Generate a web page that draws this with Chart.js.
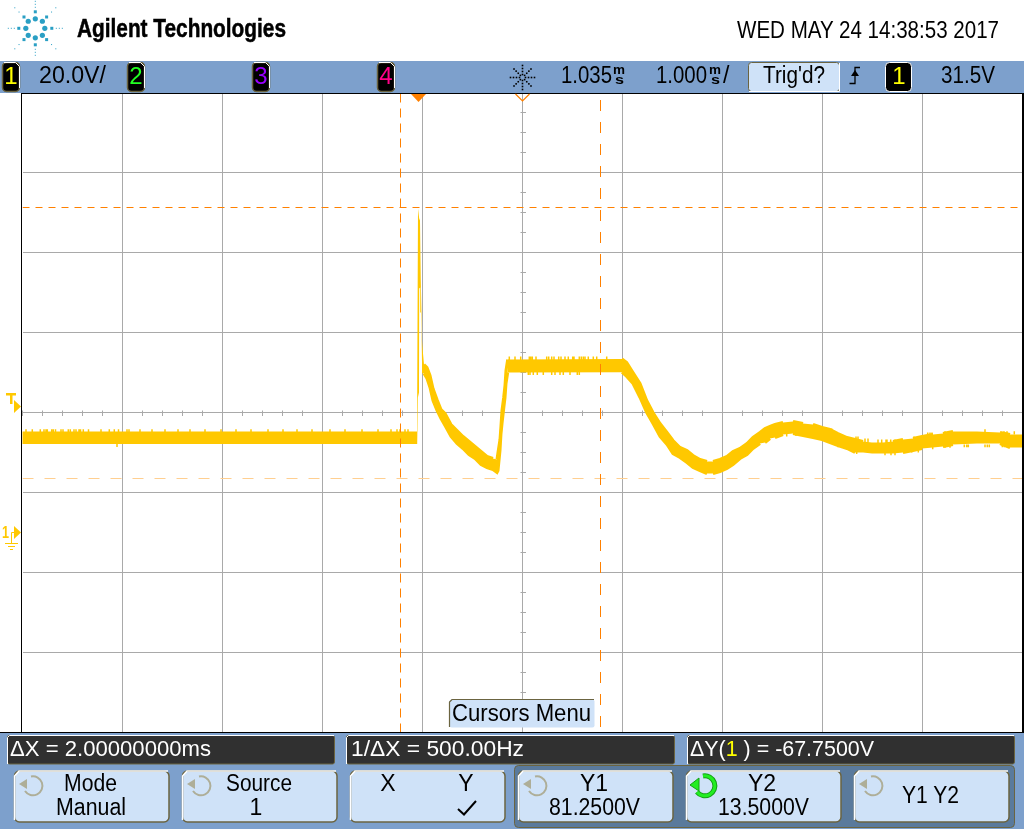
<!DOCTYPE html>
<html>
<head>
<meta charset="utf-8">
<title>Agilent oscilloscope capture</title>
<script src="https://cdn.jsdelivr.net/npm/chart.js@4/dist/chart.umd.min.js"></script>
<style>
html,body{margin:0;padding:0;background:#fff;overflow:hidden}
#stage{position:relative;width:1024px;height:829px}
canvas{position:absolute;left:0;top:0}
svg{position:absolute;left:0;top:0;pointer-events:none}
text{font-family:"Liberation Sans",Arial,sans-serif;fill:#000}
</style>
</head>
<body>
<div id="stage">
<canvas id="c" width="1024" height="829"></canvas>
<svg id="ui" width="1024" height="829" viewBox="0 0 1024 829" xmlns="http://www.w3.org/2000/svg">
  <!-- white header, blue status bar, blue softkey area -->
  <rect x="0" y="0" width="1024" height="60" fill="#fff"/>
  <rect x="0" y="61" width="1024" height="32" fill="#7da0cc"/>
  <rect x="0" y="733" width="1024" height="96" fill="#7da0cc"/>
  <rect x="0" y="93" width="21" height="640" fill="#fff"/>
  <rect x="1023" y="93" width="1" height="640" fill="#fff"/>
  <!-- plot frame -->
  <rect x="21" y="93" width="1" height="640" fill="#000"/>
  <rect x="21" y="93" width="1003" height="1" fill="#000"/>
  <rect x="21" y="732" width="1003" height="1" fill="#000"/>
  <rect x="1022" y="93" width="2" height="640" fill="#000"/>
  <rect x="0" y="732" width="21" height="1" fill="#000"/>
  <g id="logo"></g>
  <text x="77" y="37" font-size="25" font-weight="bold" stroke="#000" stroke-width="0.5" textLength="209" lengthAdjust="spacingAndGlyphs">Agilent Technologies</text>
  <text x="737" y="37.500" font-size="24" textLength="262" lengthAdjust="spacingAndGlyphs">WED MAY 24 14:38:53 2017</text>

  <!-- channel boxes -->
  <g>
    <rect x="2.500" y="62.500" width="17" height="29" rx="4" fill="#000" stroke="#6b6440" stroke-width="1.500"/>
    <path d="M4 62.500H15.500L19.500 66.500V88" fill="none" stroke="#fff"/>
    <text x="11" y="84" font-size="24" text-anchor="middle" style="fill:#ffff00">1</text>
    <rect x="127.500" y="62.500" width="17" height="29" rx="4" fill="#000" stroke="#6b6440" stroke-width="1.500"/>
    <path d="M129 62.500H140.500L144.500 66.500V88" fill="none" stroke="#fff"/>
    <text x="136" y="84" font-size="24" text-anchor="middle" style="fill:#22ff22">2</text>
    <rect x="252.500" y="62.500" width="17" height="29" rx="4" fill="#000" stroke="#6b6440" stroke-width="1.500"/>
    <path d="M254 62.500H265.500L269.500 66.500V88" fill="none" stroke="#fff"/>
    <text x="261" y="84" font-size="24" text-anchor="middle" style="fill:#9900ff">3</text>
    <rect x="377.500" y="62.500" width="17" height="29" rx="4" fill="#000" stroke="#6b6440" stroke-width="1.500"/>
    <path d="M379 62.500H390.500L394.500 66.500V88" fill="none" stroke="#fff"/>
    <text x="386" y="84" font-size="24" text-anchor="middle" style="fill:#ff0088">4</text>
  </g>
  <text x="39" y="83" font-size="23" textLength="67" lengthAdjust="spacingAndGlyphs">20.0V/</text>
  <g id="star"></g>
  <text x="561" y="83" font-size="23" textLength="51" lengthAdjust="spacingAndGlyphs">1.035</text>
  <text x="613" y="74" font-size="12" font-weight="bold" textLength="12" lengthAdjust="spacingAndGlyphs">m</text>
  <text x="615" y="84" font-size="12" font-weight="bold" textLength="9" lengthAdjust="spacingAndGlyphs">s</text>
  <text x="656" y="83" font-size="23" textLength="51" lengthAdjust="spacingAndGlyphs">1.000</text>
  <text x="709" y="74" font-size="12" font-weight="bold" textLength="12" lengthAdjust="spacingAndGlyphs">m</text>
  <text x="711" y="84" font-size="12" font-weight="bold" textLength="9" lengthAdjust="spacingAndGlyphs">s</text>
  <text x="723" y="83" font-size="23">/</text>
  <rect x="748.500" y="62.500" width="91" height="29" rx="3" fill="#cfe2f8" stroke="#6b6440"/>
  <path d="M749 91.500H839.500V63" fill="none" stroke="#fff"/>
  <text x="763" y="83" font-size="23" textLength="62" lengthAdjust="spacingAndGlyphs">Trig'd?</text>
  <path d="M849.500 83.500H855V67.500H860" fill="none" stroke="#000" stroke-width="1.300"/>
  <path d="M851 76L855 70L859 76Z" fill="#000"/>
  <rect x="885.500" y="62.500" width="26" height="29" rx="4" fill="#000" stroke="#fff"/>
  <text x="899" y="84" font-size="24" text-anchor="middle" style="fill:#ffff00">1</text>
  <text x="941" y="83" font-size="23" textLength="54" lengthAdjust="spacingAndGlyphs">31.5V</text>

  <!-- markers around the grid -->
  <path d="M411 94H426L418.500 102Z" fill="#ff8000"/>
  <path d="M515.500 94L522.500 101L529.500 94" fill="none" stroke="#ff8000" stroke-width="1.200"/>
  <path d="M6 393H16V395.500H12.500V404H10V395.500H6Z" fill="#ffc800"/>
  <path d="M14 400L21 406.500L14 413Z" fill="#ffc800"/>
  <path d="M14 526L21 532.500L14 539Z" fill="#ffc800"/>
  <text x="2" y="538" font-size="17" font-weight="bold" textLength="7" lengthAdjust="spacingAndGlyphs" style="fill:#ffc800">1</text>
  <path d="M14 532.500H11.500V543M5 543.500H18M8 546.500H15M10 549.500H13" fill="none" stroke="#ffc800"/>

  <!-- cursors menu tag -->
  <rect x="449.500" y="699.500" width="145" height="28" rx="2" fill="#cfe2f8"/>
  <path d="M449.500 727V702L452 699.500H594" fill="none" stroke="#6b6440" stroke-width="1.200"/>
  <text x="452" y="721" font-size="23" textLength="139" lengthAdjust="spacingAndGlyphs">Cursors Menu</text>

  <!-- read-out boxes -->
  <g stroke="#6b6440">
    <rect x="7.500" y="735.500" width="327" height="28.500" rx="2" fill="#303030"/>
    <rect x="346.500" y="735.500" width="328" height="28.500" rx="2" fill="#303030"/>
    <rect x="687.500" y="735.500" width="327" height="28.500" rx="2" fill="#303030"/>
  </g>
  <path d="M7.500 764V737.500L9.500 735.500H334M346.500 764V737.500L348.500 735.500H674M687.500 764V737.500L689.500 735.500H1014" fill="none" stroke="#fff"/>
  <text x="10" y="755.500" font-size="22" textLength="201" lengthAdjust="spacingAndGlyphs" style="fill:#fff">ΔX = 2.00000000ms</text>
  <text x="351" y="755.500" font-size="22" textLength="173" lengthAdjust="spacingAndGlyphs" style="fill:#fff">1/ΔX = 500.00Hz</text>
  <text x="690" y="755.500" font-size="22" textLength="184" lengthAdjust="spacingAndGlyphs" style="fill:#fff">ΔY(<tspan style="fill:#ffff00">1</tspan> ) = -67.7500V</text>

  <!-- softkeys -->
  <rect x="514.500" y="765.500" width="500" height="62" rx="4" fill="#5a7a9c" stroke="#6b6440"/>
  <g fill="#cfe2f8" stroke="#6b6440" stroke-width="1.500">
    <rect x="14.500" y="771" width="154.500" height="51" rx="5"/>
    <rect x="182.500" y="771" width="154.500" height="51" rx="5"/>
    <rect x="350.500" y="771" width="154.500" height="51" rx="5"/>
    <rect x="518.500" y="771" width="154.500" height="51" rx="5"/>
    <rect x="686.500" y="771" width="154.500" height="51" rx="5"/>
    <rect x="854.500" y="771" width="154.500" height="51" rx="5"/>
  </g>
  <path d="M14.500 820V776L19 771H168M182.500 820V776L187 771H336M350.500 820V776L355 771H504M518.500 820V776L523 771H672M686.500 820V776L691 771H840M854.500 820V776L859 771H1008" fill="none" stroke="#fff" stroke-width="1.500"/>
  <g fill="none" stroke="#aeae98" stroke-width="2">
    <path d="M31 776.500A9.500 9.500 0 1 1 25 791"/>
    <path d="M199 776.500A9.500 9.500 0 1 1 193 791"/>
    <path d="M535 776.500A9.500 9.500 0 1 1 529 791"/>
    <path d="M871 776.500A9.500 9.500 0 1 1 865 791"/>
  </g>
  <g fill="#aeae98">
    <path d="M19 784L27 779V789Z"/><path d="M187 784L195 779V789Z"/>
    <path d="M523 784L531 779V789Z"/><path d="M859 784L867 779V789Z"/>
  </g>
  <path d="M703 776A10 10 0 1 1 697 792" fill="none" stroke="#14a014" stroke-width="5"/>
  <path d="M703 776A10 10 0 1 1 697 792" fill="none" stroke="#22ee22" stroke-width="3"/>
  <path d="M690 785L699 778V791Z" fill="#22ee22" stroke="#14a014"/>

  <text x="64" y="791" font-size="23" textLength="53" lengthAdjust="spacingAndGlyphs">Mode</text>
  <text x="56" y="815" font-size="23" textLength="70" lengthAdjust="spacingAndGlyphs">Manual</text>
  <text x="226" y="791" font-size="23" textLength="66" lengthAdjust="spacingAndGlyphs">Source</text>
  <text x="256" y="815" font-size="23" text-anchor="middle">1</text>
  <text x="388" y="791" font-size="23" text-anchor="middle">X</text>
  <text x="466" y="791" font-size="23" text-anchor="middle">Y</text>
  <path d="M458 809L464 814.500L476 801" fill="none" stroke="#000" stroke-width="2"/>
  <text x="594" y="791" font-size="23" text-anchor="middle">Y1</text>
  <text x="549" y="815" font-size="23" textLength="91" lengthAdjust="spacingAndGlyphs">81.2500V</text>
  <text x="762" y="791" font-size="23" text-anchor="middle">Y2</text>
  <text x="718" y="815" font-size="23" textLength="91" lengthAdjust="spacingAndGlyphs">13.5000V</text>
  <text x="902" y="803" font-size="23" textLength="57" lengthAdjust="spacingAndGlyphs">Y1 Y2</text>
</svg>
</div>
<script>
// Grid positions
const gridTimes = [-2.96,-1.96,-0.96,0.04,1.04,2.04,3.04,4.04,5.04];
const gridVolts = [90,70,50,30,10,-10,-30];
const xRange = [-3.96, 6.04];
const yRange = [-50, 110];
const centreTime = 1.04;
const centreVolt = 30;

// Cursors
const cursorX1 = -0.18;
const cursorX2 = 1.82;
const cursorY1 = 81.25;
const cursorY2 = 13.5;

// Channel 1 trace envelope (ms, V)
const traceTime = [-3.965,-0.015,-0.013,-0.006,-0.005,0.005,0.007,0.015,0.02,0.025,0.03,0.035,0.045,0.055,
 0.085,0.115,0.145,0.185,0.225,0.265,0.325,0.385,0.445,0.505,0.565,0.625,0.685,0.745,0.785,0.795,0.815,0.825,0.835,0.852,0.865,0.875,0.892,
 2.035,2.082,2.145,2.215,2.282,2.345,2.415,2.485,2.545,2.615,2.685,2.745,2.815,2.885,2.945,3.015,3.085,3.145,3.215,3.285,3.345,3.415,3.465,3.515,3.565,3.645,3.745,3.845,3.945,4.035,4.115,4.195,4.285,4.365,4.445,4.535,4.645,4.745,4.845,4.945,5.035,5.145,5.245,5.345,5.585,5.815,5.915,6.045];
const traceHigh = [25.25,25.25,35.25,35.25,81,81,78.5,78,63.5,63.5,54.5,48,44.75,42,
 41.25,39.25,36,33.25,30.75,29.75,27,25.5,24,22.75,21.5,20.25,19,18.5,18.25,20,23.25,26.75,30.5,33.75,36.75,40.5,43.25,
 43.38,42.5,40,37.25,33,30,27.25,25,23,21.25,20.5,19.25,18.25,17.75,17.75,18.25,19,20.25,21,22.25,23.75,25,26,26.5,27,27.5,27.75,27.25,27,26.25,25.75,24.75,23.75,23.25,22.75,22.5,22.5,22.75,23.25,23.5,24,24.5,24.75,25.25,25.25,25,24.5,24.5];
const traceLow = [22.13,22.13,22.13,33.75,35,35,61,61.25,61.25,55,51,42.25,39.75,39.75,
 38.5,36.25,33,30.5,28.5,26.75,24,22.25,21,19.5,18.5,17,16.25,15.75,15,15.5,20.5,24.75,27.25,31,33.75,37.25,40,
 40.08,39,37.25,33.75,30,27.25,24,22,19.75,18.75,17.5,16.25,15.5,14.75,14.75,15.25,16,17,18.5,19.5,21,22.25,22.5,23.5,23.75,24.5,24.75,24.25,23.75,23.25,22.5,21.75,21,20,20,19.75,19.75,19.75,20,20.5,21,21.25,21.5,22,22.25,22.25,21.25,21.25];

// Noise ticks poking out of the trace band
const flatNoiseTimes = [-3.925,-3.862,-3.782,-3.745,-3.725,-3.712,-3.668,-3.652,-3.63,-3.575,-3.555,-3.502,-3.482,-3.445,-3.425,-3.395,-3.38,-3.352,-3.3,-3.175,-3.092,-3.042,-3.0,-2.915,-2.895,-2.785,-2.665,-2.535,-2.405,-2.285,-2.135,-1.975,-1.825,-1.675,-1.505,-1.355,-1.215,-1.065,-0.885,-0.735,-0.565,-0.405,-0.275,-0.215,-0.185,-0.135,-0.105];
const flatNoiseTip = 25.8;
const flatNoiseBase = 25;
const plateauUpTimes = [0.908,0.965,1.022,1.108,1.122,1.138,1.175,1.282,1.302,1.332,1.355,1.402,1.425,1.465,1.498,1.542,1.555,1.608,1.628,1.648,1.665,1.698,1.748,1.782,1.882];
const plateauUpTip = 44;
const plateauUpBase = 43;
const plateauDownTimes = [1.098,1.115,1.148,1.188,1.248,1.332,1.365,1.415,1.448,1.515,1.588,1.608];
const plateauDownTip = 39.4;
const plateauDownBase = 40.5;
const tailUpTimes = [4.132,4.175,4.375,4.395,4.465,4.495,4.595,4.632,4.675,4.685,4.722,4.765,4.955,5.092,5.115,5.135,5.265,5.305,5.325,5.665,5.855,5.885,5.958];
const tailUpTips = [26,25,24,24,23.5,23.5,23.25,23.25,23.25,23.25,23.25,23.25,24,25,25,25,25.3,25.3,25.3,25.8,25.3,25.3,25.3];
const tailUpBases = [25,24,23,23,22.5,22.5,22.25,22.25,22.25,22.25,22.25,22.25,23,24,24,24,24.5,24.5,24.5,25,24.5,24.5,24.5];
const tailDownTimes = [3.682,3.775,4.195,4.382,4.665,4.725,4.765,4.932,4.998,5.142,5.265,5.315,5.458,5.482,5.498,5.665,5.688,5.708,5.838,5.858];
const tailDownTips = [24,24.1,21.3,19.6,19.3,19.3,19.3,20,20,20.8,21.2,21.2,21.3,21.3,21.3,21.3,21.3,21.3,21.3,21.3];
const tailDownBases = [25,25,22,20.5,20,20,20,20.6,20.6,21.5,21.8,21.8,22,22,22,22,22,22,22,22];

const pairs = (ts, ys) => ts.map((t, i) => ({x: t, y: ys[i]}));
const ticksFrom = (ts, tips, bases) => ts.flatMap((t, i) => [
  {x: t, y: Array.isArray(tips) ? tips[i] : tips},
  {x: t, y: Array.isArray(bases) ? bases[i] : bases},
  {x: t, y: null}
]);
const noisePoints = [
  ...ticksFrom(flatNoiseTimes, flatNoiseTip, flatNoiseBase),
  ...ticksFrom([-3.015], 21.4, 22.5),
  ...ticksFrom(plateauUpTimes, plateauUpTip, plateauUpBase),
  ...ticksFrom(plateauDownTimes, plateauDownTip, plateauDownBase),
  ...ticksFrom(tailUpTimes, tailUpTips, tailUpBases),
  ...ticksFrom(tailDownTimes, tailDownTips, tailDownBases)
];

const TRACE = '#ffc800';
const CURSOR = '#ff8000';
const CURSOR_SOFT = '#ffcf90';
const GRID = '#a9a9a9';

// Edges of the sloped parts of the trace carry a wider stroke, like the pixel jitter on screen
const slopeEdge = {
  borderWidth: c => (c.p0.parsed.x > 0.05 && Math.abs(c.p1.parsed.y - c.p0.parsed.y) > 0.3) ? 3 : 0.01
};

const minorTicks = {
  id: 'minorTicks',
  beforeDatasetsDraw(chart) {
    const {ctx, scales: {x, y}} = chart;
    const cy = Math.round(y.getPixelForValue(centreVolt)) ;
    const cx = Math.round(x.getPixelForValue(centreTime));
    ctx.save();
    ctx.strokeStyle = GRID;
    ctx.lineWidth = 1;
    ctx.beginPath();
    for (let t = xRange[0]; t < xRange[1]; t += 0.2) {
      const p = Math.floor(x.getPixelForValue(t)) + 0.5;
      ctx.moveTo(p, cy - 2.5); ctx.lineTo(p, cy + 3);
    }
    for (let v = yRange[0]; v < yRange[1]; v += 5) {
      const p = Math.floor(y.getPixelForValue(v)) + 0.5;
      ctx.moveTo(cx - 2.5, p); ctx.lineTo(cx + 3, p);
    }
    ctx.stroke();
    ctx.restore();
  }
};

const lineBase = {pointRadius: 0, tension: 0, fill: false, parsing: true};

new Chart(document.getElementById('c'), {
  type: 'line',
  data: {
    datasets: [
      {...lineBase, label: 'X1', data: [{x: cursorX1, y: yRange[0]}, {x: cursorX1, y: yRange[1]}], borderColor: CURSOR, borderWidth: 1, borderDash: [9, 6]},
      {...lineBase, label: 'X2', data: [{x: cursorX2, y: yRange[0]}, {x: cursorX2, y: yRange[1]}], borderColor: CURSOR, borderWidth: 1, borderDash: [11, 11], borderDashOffset: 16.5},
      {...lineBase, label: 'Y1', data: [{x: xRange[0], y: cursorY1}, {x: xRange[1], y: cursorY1}], borderColor: CURSOR, borderWidth: 1, borderDash: [7, 6]},
      {...lineBase, label: 'Y2', data: [{x: xRange[0], y: cursorY2}, {x: xRange[1], y: cursorY2}], borderColor: CURSOR_SOFT, borderWidth: 1, borderDash: [11, 11]},
      {...lineBase, label: 'noise', data: noisePoints, borderColor: TRACE, borderWidth: 1.5, spanGaps: false},
      {...lineBase, label: 'Channel 1 high', data: pairs(traceTime, traceHigh), borderColor: TRACE, borderWidth: 0.01, backgroundColor: TRACE, fill: '+1', clip: 1, segment: slopeEdge},
      {...lineBase, label: 'Channel 1 low', data: pairs(traceTime, traceLow), borderColor: TRACE, borderWidth: 0.01, clip: 1, segment: slopeEdge}
    ]
  },
  options: {
    responsive: false,
    animation: false,
    events: [],
    layout: {padding: {left: 22.5, right: 1.5, top: 92.5, bottom: 96.5}},
    plugins: {legend: {display: false}, title: {display: false}, tooltip: {enabled: false}},
    scales: {
      x: {
        type: 'linear', min: xRange[0], max: xRange[1],
        afterBuildTicks: s => { s.ticks = gridTimes.map(v => ({value: v})); },
        ticks: {display: false},
        border: {display: false},
        grid: {color: GRID, lineWidth: 1, drawTicks: false}
      },
      y: {
        type: 'linear', min: yRange[0], max: yRange[1],
        afterBuildTicks: s => { s.ticks = gridVolts.map(v => ({value: v})); },
        ticks: {display: false},
        border: {display: false},
        grid: {color: GRID, lineWidth: 1, drawTicks: false}
      }
    }
  },
  plugins: [minorTicks]
});

// Logo and graticule star dots
(function () {
  const NS = 'http://www.w3.org/2000/svg';
  function add(g, tag, attrs) {
    const e = document.createElementNS(NS, tag);
    for (const k in attrs) e.setAttribute(k, attrs[k]);
    g.appendChild(e);
  }
  const logo = document.getElementById('logo');
  const teal = '#2a9fc4';
  const cx = 35.3, cy = 28.3;
  for (let i = 0; i < 8; i++) {
    const a = i * Math.PI / 4;
    const c = Math.cos(a), s = Math.sin(a);
    const r1 = i % 2 ? 10 : 9.5;
    add(logo, 'circle', {cx: cx + r1 * c, cy: cy + r1 * s, r: 2.6, fill: teal});
    const r2 = i % 2 ? 16 : 16.5;
    add(logo, 'rect', {x: cx + r2 * c - 1.5, y: cy + r2 * s - 1.5, width: 3, height: 3, fill: teal});
    const rs = i % 2 ? [23, 29] : [21, 24, 27];
    rs.forEach(r => add(logo, 'rect', {x: cx + r * c - 0.5, y: cy + r * s - 0.5, width: 1, height: 1, fill: teal}));
  }
  const star = document.getElementById('star');
  const sx = 522.5, sy = 77.5;
  for (let i = 0; i < 8; i++) {
    const a = i * Math.PI / 4;
    const c = Math.cos(a), s = Math.sin(a);
    [3, 6, 9, 12].forEach(r => add(star, 'rect', {x: sx + r * c - 0.8, y: sy + r * s - 0.8, width: 1.6, height: 1.6, fill: '#000'}));
  }
})();
</script>
</body>
</html>
